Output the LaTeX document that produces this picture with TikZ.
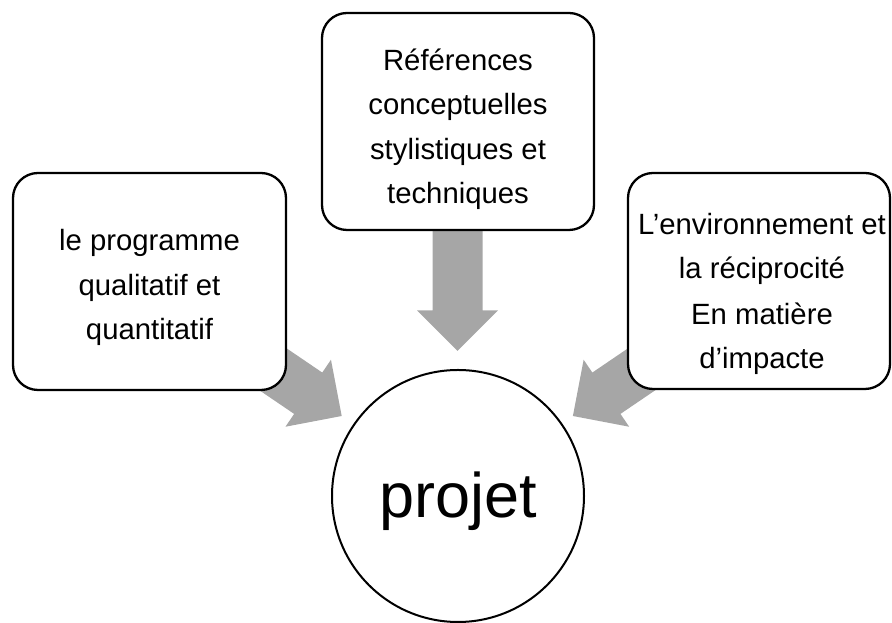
\documentclass[tikz,border=0pt]{standalone}
\usepackage{fontspec}
\setmainfont{Liberation Sans}
\definecolor{arrowgray}{HTML}{A6A6A6}
\tikzset{
  boxnode/.style={draw=black, line width=2.3pt, rounded corners=25pt, fill=white, inner sep=0pt},
  boxtext/.style={align=center, inner sep=0pt, font=\fontsize{29.3pt}{44.5pt}\selectfont},
  circnode/.style={circle, draw=black, line width=2pt, fill=white, inner sep=0pt, minimum size=252pt, font=\fontsize{63pt}{70pt}\selectfont, text height=46pt, text depth=2pt},
  blockarrow/.style={fill=arrowgray, draw=none}
}
\begin{document}
\begin{tikzpicture}[x=1pt,y=1pt]
\useasboundingbox (0,0) rectangle (892,623);
\coordinate (tipT) at (457.5,272);
\coordinate (tipL) at (341.7,207);
\coordinate (tipR) at (572.9,207);
\foreach \t/\a in {tipT/-90, tipL/-34.2, tipR/-145.8} {
  \fill[blockarrow, shift={(\t)}, rotate=\a] (0,0) -- (-40.5,40.5) -- (-40.5,25) -- (-170,25) -- (-170,-25) -- (-40.5,-25) -- (-40.5,-40.5) -- cycle;
}
\node[boxnode, minimum width=273pt, minimum height=217pt] (left) at (149.5,341.5) {};
\node[boxnode, minimum width=272pt, minimum height=217pt] (top) at (458,501.5) {};
\node[boxnode, minimum width=262pt, minimum height=216pt] (right) at (759,342) {};
\node[boxtext, yshift=-6pt] (lefttext) at (left.center) {le programme\\qualitatif et\\quantitatif};
\node[boxtext, yshift=-8pt] (toptext) at (top.center) {Références\\conceptuelles\\stylistiques et\\techniques};
\node[boxtext, xshift=3pt, yshift=-13pt, font=\fontsize{29.3pt}{43.5pt}\selectfont] (righttext) at (right.center) {L’environnement et\\la réciprocité\\[3.3pt]En matière\\d’impacte};
\node[circnode] (projet) at (458,127) {projet};
\end{tikzpicture}
\end{document}
